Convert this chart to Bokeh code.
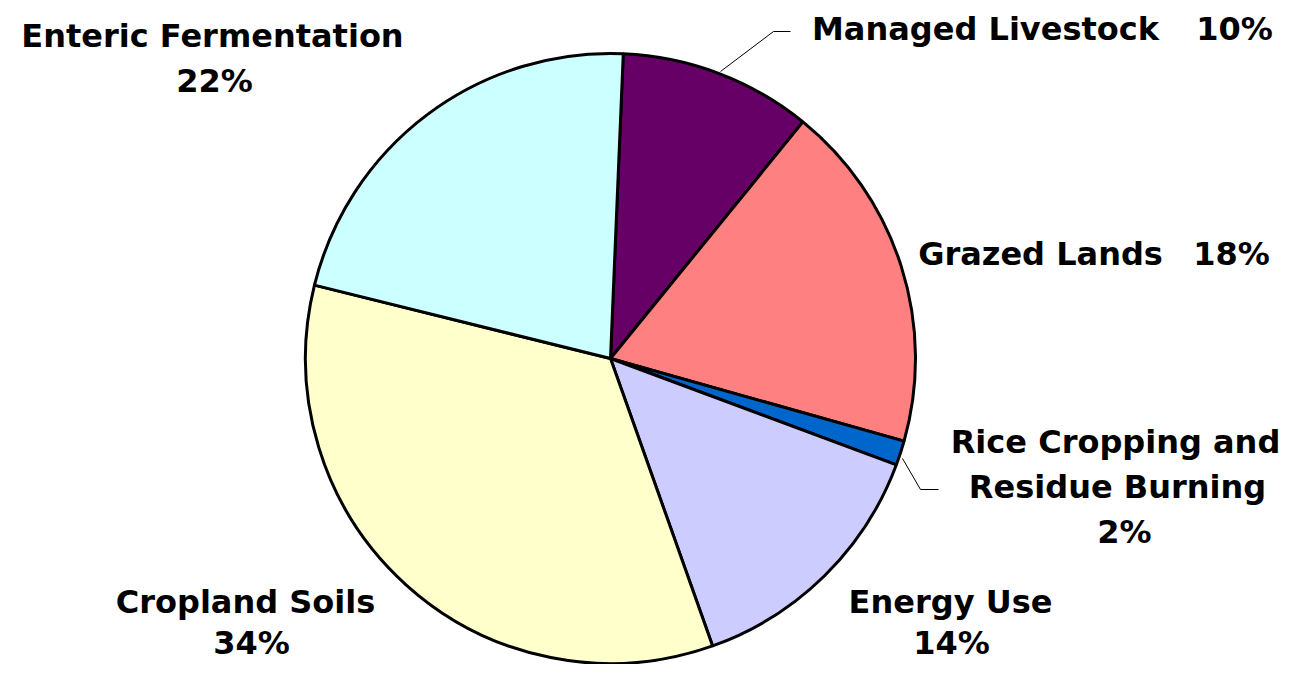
import math
from bokeh.plotting import figure
from bokeh.models import Range1d, ColumnDataSource
from bokeh.core.properties import value
from bokeh.embed import file_html
from bokeh.resources import INLINE

# ---- data ----
categories = ["Managed Livestock", "Grazed Lands", "Rice Cropping and Residue Burning",
              "Energy Use", "Cropland Soils", "Enteric Fermentation"]
shares = [10.2, 18.5, 1.3, 13.9, 34.3, 21.8]
pct_labels = ["10%", "18%", "2%", "14%", "34%", "22%"]
colors = ["#660066", "#FF8080", "#0066CC", "#CCCCFF", "#FFFFCC", "#CCFFFF"]

# ---- layout (pixel coordinates, origin top-left of the plot) ----
W, H = 1284, 664
def Y(sy):
    return H - sy

CX, CY, R = 610, Y(358), 305
START_OFFSET_DEG = 2.4  # clockwise from 12 o'clock
FS = 32
BASE_SHIFT = 12  # renderer places alphabetic baseline lower

p = figure(width=W, height=H, output_backend="svg", toolbar_location=None,
           x_range=Range1d(0, W), y_range=Range1d(0, H),
           x_axis_type=None, y_axis_type=None, min_border=0,
           outline_line_color=None, background_fill_color="white")
p.grid.visible = False

total = sum(shares)
starts, ends = [], []
cum = 0.0
for v in shares:
    a0 = 90 - START_OFFSET_DEG - cum / total * 360
    a1 = 90 - START_OFFSET_DEG - (cum + v) / total * 360
    starts.append(math.radians(a1))
    ends.append(math.radians(a0))
    cum += v

src = ColumnDataSource(dict(cat=categories, start=starts, end=ends, color=colors))
p.wedge(x=CX, y=CY, radius=R, start_angle="start", end_angle="end",
        direction="anticlock", fill_color="color", line_color="black",
        line_width=3, source=src)

# leader lines
p.line(x=[720, 773, 790], y=[Y(71), Y(31), Y(31)], line_color="black", line_width=1)
p.line(x=[902, 920, 938], y=[Y(458), Y(489), Y(489)], line_color="black", line_width=1)

# labels: (text, centre x, baseline y)
label_texts = ["Managed Livestock", pct_labels[0],
               "Grazed Lands", pct_labels[1],
               "Rice Cropping and", "Residue Burning", pct_labels[2],
               "Energy Use", pct_labels[3],
               "Cropland Soils", pct_labels[4],
               "Enteric Fermentation", pct_labels[5]]
label_x = [985, 1234, 1040, 1231, 1115, 1117, 1124, 950, 951, 245, 251, 212, 214]
label_y = [40, 40, 265, 265, 453, 498, 543, 613, 654, 613, 654, 47, 92]

p.text(x=label_x, y=[Y(v - BASE_SHIFT) for v in label_y], text=label_texts,
       text_font=value("DejaVu Sans"), text_font_style="bold",
       text_font_size=f"{FS}px", text_color="black",
       text_align="center", text_baseline="alphabetic")

open("out.html", "w").write(file_html(p, INLINE))
